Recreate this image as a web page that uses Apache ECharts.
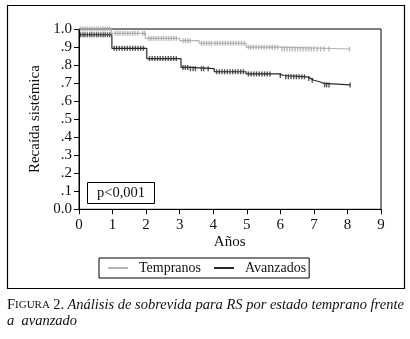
<!DOCTYPE html>
<html>
<head>
<meta charset="utf-8">
<script src="https://cdn.jsdelivr.net/npm/echarts@6/dist/echarts.min.js"></script>
<style>
html,body{margin:0;padding:0;background:#fff;}
#chart{width:410px;height:339px;}
</style>
</head>
<body>
<div id="chart"></div>
<script>
// ---- Data ----
var seriesNames = ['Tempranos', 'Avanzados'];
var xTicks = [0, 1, 2, 3, 4, 5, 6, 7, 8, 9];
var yTickLabels = ['0.0', '.1', '.2', '.3', '.4', '.5', '.6', '.7', '.8', '.9', '1.0'];

// Kaplan-Meier step points (time in years, cumulative proportion)
var tempTimes  = [0, 0.97, 1.98, 3.0, 3.58, 4.98, 6.0, 8.08];
var tempValues = [1.0, 0.976, 0.948, 0.935, 0.921, 0.899, 0.889, 0.889];

var avanTimes  = [0, 0.98, 2.02, 3.04, 3.28, 4.03, 4.98, 5.95, 6.1, 6.8, 6.9, 7.0, 7.2, 7.29, 8.08];
var avanValues = [0.968, 0.893, 0.836, 0.787, 0.780, 0.763, 0.751, 0.742, 0.735, 0.726, 0.716, 0.706, 0.698, 0.690, 0.690];

// Censored observations (times)
var tempCensor = [0.05,0.12,0.18,0.25,0.32,0.38,0.45,0.52,0.58,0.65,0.72,0.78,0.85,0.92,
  1.08,1.15,1.22,1.3,1.37,1.45,1.52,1.6,1.67,1.75,1.9,1.96,
  2.08,2.15,2.22,2.3,2.37,2.45,2.52,2.6,2.67,2.75,2.82,2.9,
  3.1,3.17,3.24,3.31,
  3.65,3.72,3.8,3.88,3.95,4.05,4.12,4.2,4.28,4.36,4.44,4.52,4.6,4.68,4.76,4.84,4.92,
  5.05,5.12,5.2,5.28,5.36,5.44,5.52,5.6,5.68,5.76,5.84,5.92,
  6.05,6.12,6.2,6.28,6.36,6.44,6.52,6.6,6.68,6.76,6.84,6.92,7.0,7.1,7.2,7.3,7.45,8.06];

var avanCensor = [0.05,0.12,0.18,0.25,0.32,0.38,0.45,0.52,0.58,0.65,0.72,0.78,0.85,0.92,
  1.05,1.12,1.2,1.28,1.36,1.44,1.52,1.6,1.68,1.76,1.84,1.92,
  2.1,2.18,2.26,2.34,2.42,2.5,2.58,2.66,2.74,2.82,2.9,
  3.1,3.17,3.24,3.32,3.4,3.47,3.65,3.72,3.85,
  4.1,4.18,4.26,4.34,4.42,4.5,4.58,4.66,4.74,4.82,4.9,
  5.05,5.13,5.21,5.29,5.37,5.45,5.53,5.61,5.69,
  6.0,6.16,6.24,6.32,6.4,6.48,6.56,6.64,6.72,6.85,6.95,
  7.32,7.38,7.45,8.08];

var pText = 'p<0,001';
var xTitle = 'Años';
var yTitle = 'Recaída sistémica';

// ---- helpers ----
function pairs(ts, vs) { return ts.map(function (t, i) { return [t, vs[i]]; }); }
function survAt(ts, vs, t) {
  var v = vs[0];
  for (var i = 0; i < ts.length; i++) { if (ts[i] <= t) v = vs[i]; }
  return v;
}
function censorPts(cs, ts, vs) { return cs.map(function (t) { return [t, survAt(ts, vs, t)]; }); }

var SERIF = '"Liberation Serif", "DejaVu Serif", serif';
var grayCol = '#b3b3b3';
var darkCol = '#2b2b2b';

var chart = echarts.init(document.getElementById('chart'), null, {renderer: 'canvas'});
chart.setOption({
  animation: false,
  backgroundColor: '#fff',
  textStyle: {fontFamily: SERIF},
  grid: {left: 79, right: 29, top: 29, height: 180.3, show: true, borderColor: '#000', borderWidth: 1, backgroundColor: 'transparent'},
  xAxis: {
    type: 'value', min: 0, max: 9, interval: 1,
    axisLine: {show: true, lineStyle: {color: '#000', width: 1}},
    axisTick: {show: true, inside: false, length: 5, lineStyle: {color: '#000'}},
    axisLabel: {margin: 8, color: '#111', fontSize: 15, fontFamily: SERIF,
      formatter: function (v) { return String(xTicks[Math.round(v)]); }},
    splitLine: {show: false}
  },
  yAxis: {
    type: 'value', min: 0, max: 1, interval: 0.1,
    axisLine: {show: true, lineStyle: {color: '#000', width: 1}},
    axisTick: {show: true, inside: false, length: 5, lineStyle: {color: '#000'}},
    axisLabel: {margin: 7, color: '#111', fontSize: 15, fontFamily: SERIF,
      formatter: function (v) { return yTickLabels[Math.round(v * 10)]; }},
    splitLine: {show: false},
    name: yTitle, nameLocation: 'middle', nameGap: 32,
    nameTextStyle: {fontSize: 15, color: '#111', fontFamily: SERIF}
  },
  legend: {
    left: 99, top: 258,
    data: seriesNames,
    icon: 'rect', itemWidth: 20, itemHeight: 2, itemGap: 13,
    borderColor: '#000', borderWidth: 1, borderRadius: 0,
    padding: [3, 3, 3, 9],
    textStyle: {fontSize: 14, color: '#111', fontFamily: SERIF, padding: [0, 0, 0, 6]}
  },
  series: [
    {name: seriesNames[0], type: 'line', step: 'end', data: pairs(tempTimes, tempValues),
      showSymbol: false, symbol: 'none', lineStyle: {color: grayCol, width: 1.2}, itemStyle: {color: grayCol}, z: 3},
    {name: seriesNames[1], type: 'line', step: 'end', data: pairs(avanTimes, avanValues),
      showSymbol: false, symbol: 'none', lineStyle: {color: darkCol, width: 1.2}, itemStyle: {color: darkCol}, z: 4},
    {name: 'c1', type: 'scatter', data: censorPts(tempCensor, tempTimes, tempValues),
      symbol: 'rect', symbolSize: [1.4, 5], itemStyle: {color: '#a8a8a8'}, z: 3, silent: true},
    {name: 'c2', type: 'scatter', data: censorPts(avanCensor, avanTimes, avanValues),
      symbol: 'rect', symbolSize: [1.4, 5], itemStyle: {color: darkCol}, z: 4, silent: true}
  ],
  graphic: [
    {type: 'rect', shape: {x: 7.5, y: 5.5, width: 397, height: 283}, style: {fill: 'none', stroke: '#000', lineWidth: 1.2}, silent: true},
    {type: 'text', x: 229.7, y: 242, style: {text: xTitle, font: '15px ' + SERIF, fill: '#111', textAlign: 'center', textVerticalAlign: 'middle'}},
    {type: 'rect', shape: {x: 87.5, y: 182.5, width: 67, height: 21}, style: {fill: '#fff', stroke: '#000', lineWidth: 1}, z: 10},
    {type: 'text', x: 121, y: 193.5, style: {text: pText, font: '14.5px ' + SERIF, fill: '#111', textAlign: 'center', textVerticalAlign: 'middle'}, z: 11},
    {type: 'text', x: 7, y: 305, style: {
      text: '{a|F}{b|IGURA} {c|2.} {d|Análisis de sobrevida para RS por estado temprano frente}',
      textVerticalAlign: 'middle', fill: '#111',
      rich: {
        a: {fontSize: 14.5, fontFamily: SERIF, fill: '#111'},
        b: {fontSize: 11, fontFamily: SERIF, fill: '#111'},
        c: {fontSize: 14.5, fontFamily: SERIF, fill: '#111'},
        d: {fontSize: 14.5, fontFamily: SERIF, fontStyle: 'italic', fill: '#111'}
      }}},
    {type: 'text', x: 7, y: 321, style: {text: 'a  avanzado', font: 'italic 14.5px ' + SERIF, fill: '#111', textVerticalAlign: 'middle'}}
  ]
});
</script>
</body>
</html>
